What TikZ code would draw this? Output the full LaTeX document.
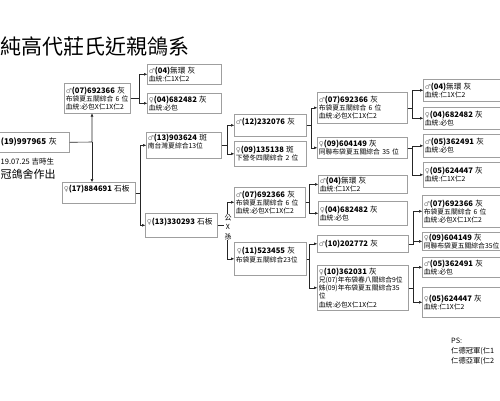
\documentclass[tikz,border=0pt]{standalone}
\usepackage{fontspec}
\setmainfont{Noto Sans CJK TC}
\newfontfamily\signfont{DejaVu Sans}
\usetikzlibrary{arrows.meta}

\newcommand{\cocksym}{{\signfont\color{gray}♂}}
\newcommand{\hensym}{{\signfont\color{gray}♀}}
\newcommand{\ringno}[2]{{\fontsize{7.6}{8.2}\selectfont\textbf{#1}#2}}

\begin{document}
\begin{tikzpicture}[x=1pt, y=-1pt,
        % This defines the style of the pigeon boxes
        pbox/.style={rectangle, draw=gray!75, line width=0.6pt, fill=white, anchor=north west, align=left, inner sep=1.5pt, font=\fontsize{6.8}{8.2}\selectfont},
        % This defines the style of the elbow arrows
        link/.style={-{Triangle[length=3pt, width=2.6pt]}, line width=0.6pt, draw=black!85}
    ]
    \useasboundingbox (0,0) rectangle (500,400);
    \fill[white] (0,0) rectangle (500,400);
    \clip (0,0) rectangle (500,400);

    % --- TITLE AND NOTES ---
    \node (title) [anchor=west, inner sep=0pt, font=\fontsize{21}{24}\selectfont] at (0,47) {純高代莊氏近親鴿系};
    \node (born) [anchor=west, inner sep=0pt, font=\fontsize{7.5}{9}\selectfont] at (0.5,162) {19.07.25 吉時生};
    \node (loft) [anchor=west, inner sep=0pt, font=\fontsize{11}{13}\selectfont] at (0.5,174) {冠鴿舍作出};
    \node (ps) [anchor=north west, inner sep=0pt, align=left, font=\fontsize{7.3}{9.8}\selectfont] at (451,338) {PS:\\仁德冠軍(仁1\\仁德亞軍(仁2};

    % --- THE BOXES ---
    \node (root) [pbox, text width=67pt, minimum height=20pt, font=\fontsize{8}{9}\selectfont] at (-1,132) {\textbf{(19)997965} 灰};

    \node (S) [pbox, text width=63pt, minimum height=30pt] at (64,83) {\cocksym\ringno{(07)692366}{ 灰}\\布袋夏五關綜合 6 位\\血統:必包X仁1X仁2};
    \node (D) [pbox, text width=70pt, minimum height=21pt] at (62,182) {\hensym\ringno{(17)884691}{ 石板}\\~};

    \node (SS) [pbox, text width=71pt, minimum height=20pt] at (147,64) {\cocksym\ringno{(04)}{無環 灰}\\血統:仁1X仁2};
    \node (SD) [pbox, text width=71pt, minimum height=20pt] at (147,93) {\hensym\ringno{(04)682482}{ 灰}\\血統:必包};
    \node (DS) [pbox, text width=72pt, minimum height=26pt] at (146,132) {\cocksym\ringno{(13)903624}{ 斑}\\南台灣夏綜合13位\\~};
    \node (DD) [pbox, text width=69pt, minimum height=24pt] at (145,213) {\hensym\ringno{(13)330293}{ 石板}\\~};

    \node (DSS) [pbox, text width=69pt, minimum height=22pt] at (234,114) {\cocksym\ringno{(12)232076}{ 灰}\\~};
    \node (DSD) [pbox, text width=69pt, minimum height=25pt] at (234,141) {\hensym\ringno{(09)135138}{ 斑}\\下營冬四關綜合 2 位};
    \node (DDS) [pbox, text width=68pt, minimum height=30pt] at (234,187) {\cocksym\ringno{(07)692366}{ 灰}\\布袋夏五關綜合 6 位\\血統:必包X仁1X仁2};
    \node (DDD) [pbox, text width=69pt, minimum height=33pt] at (234,242) {\,\hensym\ringno{(11)523455}{ 灰}\\布袋夏五關綜合23位\\~};

    \node (DSSS) [pbox, text width=87pt, minimum height=31pt] at (317,92) {\cocksym\ringno{(07)692366}{ 灰}\\布袋夏五關綜合 6 位\\血統:必包X仁1X仁2};
    \node (DSSD) [pbox, text width=87pt, minimum height=21pt] at (317,137) {\hensym\ringno{(09)604149}{ 灰}\\同聯布袋夏五關綜合 35 位};
    \node (DDSS) [pbox, text width=86pt, minimum height=18pt] at (318,175) {\cocksym\ringno{(04)}{無環 灰}\\血統:仁1X仁2};
    \node (DDSD) [pbox, text width=86pt, minimum height=24pt] at (318,201) {\hensym\ringno{(04)682482}{ 灰}\\血統:必包};
    \node (DDDS) [pbox, text width=88pt, minimum height=17pt] at (317,235) {\cocksym\ringno{(10)202772}{ 灰}};
    \node (DDDD) [pbox, text width=88pt, minimum height=45pt] at (317,265) {\hensym\ringno{(10)362031}{ 灰}\\兄(07)年布袋春八關綜合9位\\姊(09)年布袋夏五關綜合35\\位\\血統:必包X仁1X仁2};

    \node (DSSSS) [pbox, text width=95pt, minimum height=22pt] at (423,79) {\cocksym\ringno{(04)}{無環 灰}\\血統:仁1X仁2};
    \node (DSSSD) [pbox, text width=95pt, minimum height=22pt] at (423,107) {\hensym\ringno{(04)682482}{ 灰}\\血統:必包};
    \node (DSSDS) [pbox, text width=95pt, minimum height=23pt] at (423,134) {\cocksym\ringno{(05)362491}{ 灰}\\血統:必包};
    \node (DSSDD) [pbox, text width=95pt, minimum height=25pt] at (423,162) {\hensym\ringno{(05)624447}{ 灰}\\血統:仁1X仁2};
    \node (DDDSS) [pbox, text width=95pt, minimum height=32pt] at (422,195) {\cocksym\ringno{(07)692366}{ 灰}\\布袋夏五關綜合 6 位\\血統:必包X仁1X仁2};
    \node (DDDSD) [pbox, text width=95pt, minimum height=18pt] at (422,232) {\hensym\ringno{(09)604149}{ 灰}\\同聯布袋夏五關綜合35位};
    \node (DDDDS) [pbox, text width=95pt, minimum height=20pt] at (422,257) {\cocksym\ringno{(05)362491}{ 灰}\\血統:必包};
    \node (DDDDD) [pbox, text width=95pt, minimum height=30pt] at (422,287) {\hensym\ringno{(05)624447}{ 灰}\\血統:仁1X仁2};

    % --- THE ELBOW ARROWS ---
    \coordinate (rj) at (92,142);
    \draw [link] (root.east) -- (rj) -- (rj |- S.south);
    \draw [link] (rj) -- (rj |- D.north);

    \draw [link] (S.east) -- ++(9,0) |- (SS.west);
    \draw [link] (S.east) -- ++(9,0) |- (SD.west);
    \draw [link] (D.east) -- ++(5,0) |- (DS.west);
    \draw [link] (D.east) -- ++(5,0) |- (DD.west);

    \draw [link] (DS.east) -- ++(6,0) |- (DSS.west);
    \draw [link] (DS.east) -- ++(6,0) |- (DSD.west);
    \draw [link] (DD.east) -- ++(10,0) |- (DDS.west);
    \draw [link] (DD.east) -- ++(10,0) |- (DDD.west);
    \node (gx) [fill=white, inner sep=0.6pt, align=center, font=\fontsize{7}{9.5}\selectfont] at (228,227) {公\\X\\孫};

    \draw [link] (DSS.east) -- ++(5,0) |- (DSSS.west);
    \draw [link] (DSS.east) -- ++(5,0) |- (DSSD.west);
    \draw [link] (DDS.east) -- ++(4,0) |- (DDSS.west);
    \draw [link] (DDS.east) -- ++(4,0) |- (DDSD.west);
    \draw [link] (DDD.east) -- ++(3,0) |- (DDDS.west);
    \draw [link] (DDD.east) -- ++(3,0) |- (DDDD.west);

    \draw [link] (DSSS.east) -- ++(5,0) |- (DSSSS.west);
    \draw [link] (DSSS.east) -- ++(5,0) |- (DSSSD.west);
    \draw [link] (DSSD.east) -- ++(5,0) |- (DSSDS.west);
    \draw [link] (DSSD.east) -- ++(5,0) |- (DSSDD.west);
    \draw [link] (DDDS.east) -- ++(5,0) |- (DDDSS.west);
    \draw [link] (DDDS.east) -- ++(5,0) |- (DDDSD.west);
    \draw [link] (DDDD.east) -- ++(5,0) |- (DDDDS.west);
    \draw [link] (DDDD.east) -- ++(5,0) |- (DDDDD.west);

\end{tikzpicture}
\end{document}
